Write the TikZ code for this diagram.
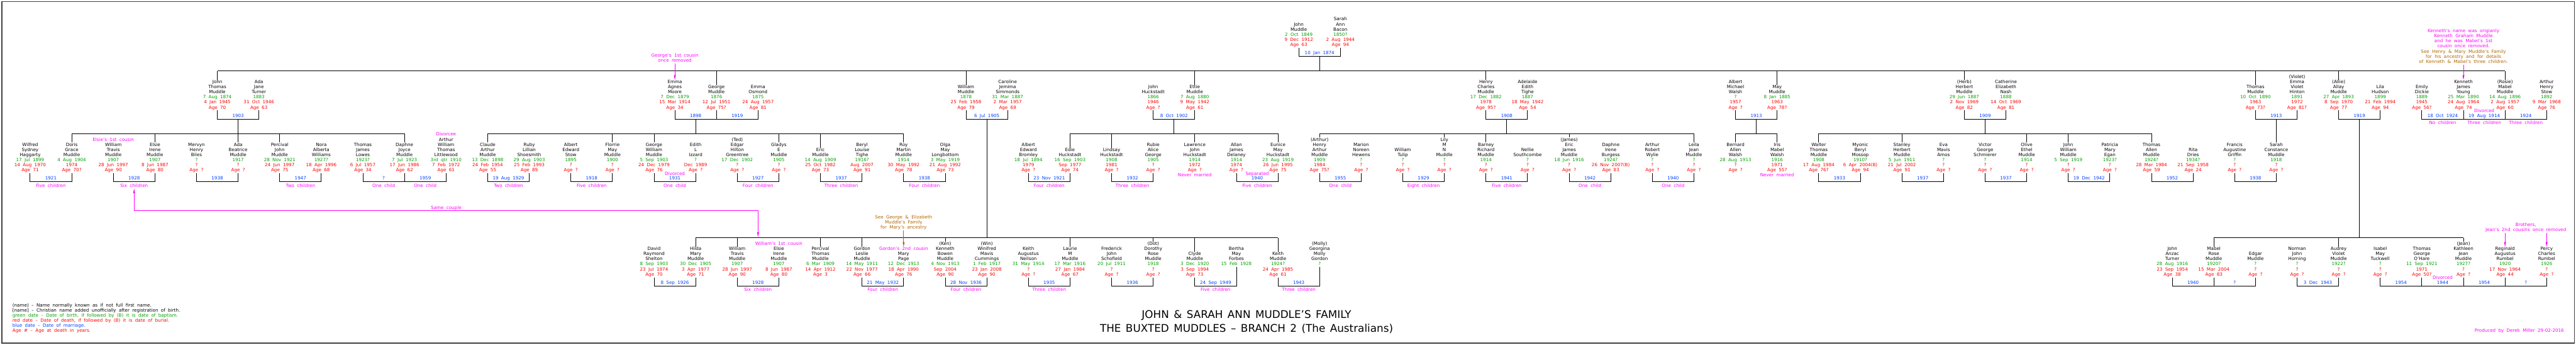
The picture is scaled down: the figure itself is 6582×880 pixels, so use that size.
\documentclass[tikz,border=0pt]{standalone}
\usepackage{fontspec}
\setmainfont{DejaVu Sans}
\usetikzlibrary{calc,arrows.meta}
\definecolor{cg}{RGB}{0,160,0}
\definecolor{cr}{RGB}{255,0,0}
\definecolor{cb}{RGB}{0,64,255}
\definecolor{cm}{RGB}{255,0,255}
\definecolor{cbr}{RGB}{176,100,0}
\newcommand\nf{\fontsize{11.5}{13}\selectfont\spaceskip=7pt plus 1pt minus 1pt\relax}
\newcommand\tf{\fontsize{27}{30}\selectfont\spaceskip=12pt plus 2pt minus 1pt\relax}
\newcommand\tG[1]{\textcolor{cg}{#1}}
\newcommand\tR[1]{\textcolor{cr}{#1}}
\newcommand\tB[1]{\textcolor{cb}{#1}}
\newcommand\tM[1]{\textcolor{cm}{#1}}
\newcommand\tBr[1]{\textcolor{cbr}{#1}}
\newcommand\gx[1]{77+53.14*(#1)}
\newcommand\Pers[7]{\node[pers] (#1) at ({\gx{#2}},#3) {\begin{tabular}[b]{@{}c@{}}#4\\\tG{#5}\\\tR{#6}\\\tR{#7}\end{tabular}};}
\newcommand\PersX[4]{\node[pers] (#1) at ({\gx{#2}},#3) {\begin{tabular}[b]{@{}c@{}}#4\end{tabular}};}
\newcommand\Marr[5]{%
  \path (#1.south |- 0,#3) coordinate (#5l) (#2.south |- 0,#3) coordinate (#5r);
  \coordinate (#5) at ($(#5l)!.5!(#5r)$);
  \draw[ln] (#1.south) -- (#5l) -- (#5r) -- (#2.south);
  \node[dt] (#5d) at ($(#5)+(0,-5)$) {#4};}
\newcommand\Kids[2]{\node[kd] (#1k) at ($(#1)+(0,14)$) {#2};}
\newcommand\Abv[2]{\node[kd] (#1v) at ($(#1)+(0,-17)$) {#2};}
\newcommand\Drops[2]{\foreach \p in {#2} {\draw[ln] (\p.north) -- (\p.north |- 0,#1);}}
\newcommand\Sib[3]{\draw[sib] (#2.north |- 0,#1) -- (#3.north |- 0,#1);}
\tikzset{
 pers/.style={inner sep=0pt,outer sep=0pt,anchor=base,font=\nf},
 lbl/.style={inner sep=0pt,outer sep=0pt,anchor=base,font=\nf},
 dt/.style={lbl,text=cb},
 kd/.style={lbl,text=cm},
 ln/.style={line width=1.4pt},
 sib/.style={line width=1.9pt},
 mgar/.style={draw=cm,line width=1.2pt,-{Triangle[length=12pt,width=4.5pt]}},
 brar/.style={draw=cbr,line width=1.2pt,-{Triangle[length=12pt,width=4.5pt]}},
 outerbox/.style={line width=2.5pt,draw=black!75},
 ttl/.style={inner sep=0pt,outer sep=0pt,anchor=base,font=\tf},
}
\begin{document}
\begin{tikzpicture}[x=1pt,y=-1pt]
\useasboundingbox (0,0) rectangle (6582,880);
\draw[outerbox] (5,4) rectangle (6578,876);

% ---------- row 0
\Pers{john}{61}{118}{John\\Muddle}{2 Oct 1849}{9 Dec 1912}{Age 63}
\Pers{sarah}{63}{118}{Sarah\\Ann\\Bacon}{1850?}{2 Aug 1944}{Age 94}
\Marr{john}{sarah}{144}{10 Jan 1874}{m0}

% ---------- row 1
\Pers{jtm}{9}{278}{John\\Thomas\\Muddle}{7 Aug 1874}{4 Jan 1945}{Age 70}
\Pers{ajt}{11}{278}{Ada\\Jane\\Turner}{1883}{31 Oct 1946}{Age 63}
\Pers{eam}{31}{278}{Emma\\Agnes\\Moore}{7 Dec 1879}{15 Mar 1914}{Age 34}
\Pers{gm}{33}{278}{George\\Muddle}{1876}{12 Jul 1951}{Age 75?}
\Pers{eo}{35}{278}{Emma\\Osmond}{1875}{24 Aug 1957}{Age 81}
\Pers{wm}{45}{278}{William\\Muddle}{1878}{25 Feb 1958}{Age 79}
\Pers{cjs}{47}{278}{Caroline\\Jemima\\Simmonds}{31 Mar 1887}{2 Mar 1957}{Age 69}
\Pers{jh}{54}{278}{John\\Huckstadt}{1866}{1946}{Age ?}
\Pers{etm}{56}{278}{Ettie\\Muddle}{7 Aug 1880}{9 May 1942}{Age 61}
\Pers{hcm}{70}{278}{Henry\\Charles\\Muddle}{17 Dec 1882}{1978}{Age 95?}
\Pers{aet}{72}{278}{Adelaide\\Edith\\Tighe}{1887}{18 May 1942}{Age 54}
\Pers{amw}{82}{278}{Albert\\Michael\\Walsh}{?}{1957}{Age ?}
\Pers{maym}{84}{278}{May\\Muddle}{8 Jan 1885}{1963}{Age 78?}
\Pers{hm}{93}{278}{(Herb)\\Herbert\\Muddle}{29 Jun 1887}{2 Nov 1969}{Age 82}
\Pers{cen}{95}{278}{Catherine\\Elizabeth\\Nash}{1888}{14 Oct 1969}{Age 81}
\Pers{tm}{107}{278}{Thomas\\Muddle}{10 Oct 1890}{1963}{Age 73?}
\Pers{evh}{109}{278}{(Violet)\\Emma\\Violet\\Hinton}{1891}{1972}{Age 81?}
\Pers{alm}{111}{278}{(Allie)\\Allay\\Muddle}{27 Apr 1893}{8 Sep 1970}{Age 77}
\Pers{lh}{113}{278}{Lila\\Hudson}{1899}{21 Feb 1994}{Age 94}
\Pers{edk}{115}{278}{Emily\\Dickie}{1889}{1945}{Age 56?}
\Pers{kjy}{117}{278}{Kenneth\\James\\Young}{25 Mar 1890}{24 Aug 1964}{Age 74}
\Pers{rmm}{119}{278}{(Rosie)\\Mabel\\Muddle}{14 Aug 1896}{2 Aug 1957}{Age 60}
\Pers{ahs}{121}{278}{Arthur\\Henry\\Stow}{1892}{9 Mar 1968}{Age 76}

\Marr{jtm}{ajt}{304}{1903}{mA}
\Marr{eam}{gm}{304}{1898}{mB}
\Marr{gm}{eo}{304}{1919}{mBb}
\Marr{wm}{cjs}{304}{6 Jul 1905}{mC}
\Marr{jh}{etm}{304}{8 Oct 1902}{mD}
\Marr{hcm}{aet}{304}{1908}{mE}
\Marr{amw}{maym}{304}{1913}{mF}
\Marr{hm}{cen}{304}{1909}{mG}
\Marr{tm}{evh}{304}{1913}{mH}
\Marr{alm}{lh}{304}{1919}{mI}
\Marr{edk}{kjy}{304}{18 Oct 1924}{mJ}
\Marr{kjy}{rmm}{304}{19 Aug 1914}{mK}
\Marr{rmm}{ahs}{304}{1924}{mL}
\Kids{mJ}{No children}
\Kids{mK}{Three children}
\Kids{mL}{Three children}
\Abv{mK}{Divorced}

\draw[ln] (m0) -- (m0 |- 0,181);
\Sib{181}{jtm}{rmm}
\Drops{181}{jtm,gm,wm,etm,hcm,maym,hm,tm,alm,rmm}

% ---------- row 2
\Pers{wsh}{0}{438}{Wilfred\\Sydney\\Haggarty}{17 Jul 1899}{14 Aug 1970}{Age 71}
\Pers{dgm}{2}{438}{Doris\\Grace\\Muddle}{4 Aug 1904}{1974}{Age 70?}
\Pers{wtm}{4}{438}{\tM{Elsie’s 1st cousin}\\William\\Travis\\Muddle}{1907}{28 Jun 1997}{Age 90}
\Pers{eim}{6}{438}{Elsie\\Irene\\Muddle}{1907}{8 Jun 1987}{Age 80}
\Pers{mhb}{8}{438}{Mervyn\\Henry\\Biles}{?}{?}{Age ?}
\Pers{abm}{10}{438}{Ada\\Beatrice\\Muddle}{1917}{?}{Age ?}
\Pers{pjm}{12}{438}{Percival\\John\\Muddle}{28 Nov 1921}{24 Jun 1997}{Age 75}
\Pers{naw}{14}{438}{Nora\\Alberta\\Williams}{1927?}{18 Apr 1996}{Age 68}
\Pers{tjl}{16}{438}{Thomas\\James\\Lowes}{1923?}{6 Jul 1957}{Age 34}
\Pers{djm}{18}{438}{Daphne\\Joyce\\Muddle}{7 Jul 1923}{17 Jun 1986}{Age 62}
\Pers{awl}{20}{438}{\tM{Divorcee}\\Arthur\\William\\Thomas\\Littlewood}{3rd qtr 1910}{7 Feb 1972}{Age 61}
\Pers{cam}{22}{438}{Claude\\Arthur\\Muddle}{13 Dec 1898}{24 Feb 1954}{Age 55}
\Pers{rls}{24}{438}{Ruby\\Lillian\\Shoesmith}{29 Aug 1903}{25 Feb 1993}{Age 89}
\Pers{aes}{26}{438}{Albert\\Edward\\Stow}{1895}{?}{Age ?}
\Pers{fmm}{28}{438}{Florrie\\May\\Muddle}{1900}{?}{Age ?}
\Pers{gwm}{30}{438}{George\\William\\Muddle}{5 Sep 1903}{24 Dec 1979}{Age 76}
\Pers{eli}{32}{438}{Edith\\L\\Izzard}{?}{Dec 1989}{Age ?}
\Pers{ehg}{34}{438}{(Ted)\\Edgar\\Hilton\\Greentree}{17 Dec 1902}{?}{Age ?}
\Pers{gem}{36}{438}{Gladys\\E\\Muddle}{1905}{?}{Age ?}
\Pers{erm}{38}{438}{Eric\\Muddle}{14 Aug 1909}{25 Oct 1982}{Age 73}
\Pers{blt}{40}{438}{Beryl\\Louise\\Tighe}{1916?}{Aug 2007}{Age 91}
\Pers{rmmu}{42}{438}{Roy\\Martin\\Muddle}{1914}{30 May 1992}{Age 78}
\Pers{oml}{44}{438}{Olga\\May\\Longbottom}{3 May 1919}{21 Aug 1992}{Age 73}
\Pers{aeb}{48}{438}{Albert\\Edward\\Bromley}{18 Jul 1894}{1979}{Age ?}
\Pers{edh}{50}{438}{Edie\\Huckstadt}{16 Sep 1903}{Sep 1977}{Age 74}
\Pers{lih}{52}{438}{Lindsay\\Huckstadt}{1908}{1981}{Age ?}
\Pers{rag}{54}{438}{Rubie\\Alice\\George}{1905}{?}{Age ?}
\Pers{ljh}{56}{438}{Lawrence\\John\\Huckstadt}{1914}{1972}{Age ?}
\Pers{ajd}{58}{438}{Allan\\James\\Delaney}{1914}{1974}{Age ?}
\Pers{emh}{60}{438}{Eunice\\May\\Huckstadt}{23 Aug 1919}{26 Jun 1995}{Age 75}
\Pers{ham}{62}{438}{(Arthur)\\Henry\\Arthur\\Muddle}{1909}{1984}{Age 75?}
\Pers{mnh}{64}{438}{Marion\\Noreen\\Hewens}{?}{?}{Age ?}
\Pers{wtu}{66}{438}{William\\Tulip}{?}{?}{Age ?}
\Pers{lmn}{68}{438}{Lily\\M\\N\\Muddle}{?}{?}{Age ?}
\Pers{brm}{70}{438}{Barney\\Richard\\Muddle}{1914}{?}{Age ?}
\Pers{nsc}{72}{438}{Nellie\\Southcombe}{?}{?}{Age ?}
\Pers{ejm}{74}{438}{(James)\\Eric\\James\\Muddle}{18 Jun 1916}{?}{Age ?}
\Pers{dib}{76}{438}{Daphne\\Irene\\Burgess}{1924?}{26 Nov 2007(B)}{Age 83}
\Pers{arw}{78}{438}{Arthur\\Robert\\Wylie}{?}{?}{Age ?}
\Pers{ljm}{80}{438}{Leila\\Jean\\Muddle}{?}{?}{Age ?}
\Pers{baw}{82}{438}{Bernard\\Allen\\Walsh}{28 Aug 1913}{?}{Age ?}
\Pers{imw}{84}{438}{Iris\\Mabel\\Walsh}{1916}{1971}{Age 55?}
\Pers{wthm}{86}{438}{Walter\\Thomas\\Muddle}{1908}{17 Aug 1984}{Age 76?}
\Pers{mbm}{88}{438}{Myonic\\Beryl\\Mossop}{1910?}{6 Apr 2004(B)}{Age 94}
\Pers{shm}{90}{438}{Stanley\\Herbert\\Muddle}{5 Jun 1911}{21 Jul 2002}{Age 91}
\Pers{ema}{92}{438}{Eva\\Mavis\\Amos}{?}{?}{Age ?}
\Pers{vgs}{94}{438}{Victor\\George\\Schmierer}{?}{?}{Age ?}
\Pers{oem}{96}{438}{Olive\\Ethel\\Muddle}{1914}{?}{Age ?}
\Pers{jwm}{98}{438}{John\\William\\Muddle}{5 Sep 1919}{?}{Age ?}
\Pers{pme}{100}{438}{Patricia\\Mary\\Egan}{1923?}{?}{Age ?}
\Pers{tam}{102}{438}{Thomas\\Allen\\Muddle}{1924?}{28 Mar 1984}{Age 59}
\Pers{rdr}{104}{438}{Rita\\Dries}{1934?}{21 Sep 1958}{Age 24}
\Pers{fag}{106}{438}{Francis\\Augustine\\Griffin}{?}{?}{Age ?}
\Pers{scm}{108}{438}{Sarah\\Constance\\Muddle}{1918}{?}{Age ?}

\Marr{wsh}{dgm}{464}{1921}{nA}\Kids{nA}{Five children}
\Marr{wtm}{eim}{464}{1928}{nB}\Kids{nB}{Six children}
\Marr{mhb}{abm}{464}{1938}{nC}
\Marr{pjm}{naw}{464}{1947}{nD}\Kids{nD}{Two children}
\Marr{tjl}{djm}{464}{?}{nE}\Kids{nE}{One child}
\Marr{djm}{awl}{464}{1959}{nF}\Kids{nF}{One child}
\Marr{cam}{rls}{464}{19 Aug 1929}{nG}\Kids{nG}{Two children}
\Marr{aes}{fmm}{464}{1918}{nH}\Kids{nH}{Five children}
\Marr{gwm}{eli}{464}{1931}{nI}\Kids{nI}{One child}\Abv{nI}{Divorced}
\Marr{ehg}{gem}{464}{1927}{nJ}\Kids{nJ}{Four children}
\Marr{erm}{blt}{464}{1937}{nK}\Kids{nK}{Three children}
\Marr{rmmu}{oml}{464}{1938}{nL}\Kids{nL}{Four children}
\Marr{aeb}{edh}{464}{23 Nov 1921}{nM}\Kids{nM}{Four children}
\Marr{lih}{rag}{464}{1932}{nN}\Kids{nN}{Three children}
\Marr{ajd}{emh}{464}{1940}{nO}\Kids{nO}{Five children}\Abv{nO}{Separated}
\Marr{ham}{mnh}{464}{1955}{nP}\Kids{nP}{One child}
\Marr{wtu}{lmn}{464}{1929}{nQ}\Kids{nQ}{Eight children}
\Marr{brm}{nsc}{464}{1941}{nR}\Kids{nR}{Five children}
\Marr{ejm}{dib}{464}{1942}{nS}\Kids{nS}{One child}
\Marr{arw}{ljm}{464}{1940}{nT}\Kids{nT}{One child}
\Marr{wthm}{mbm}{464}{1933}{nU}
\Marr{shm}{ema}{464}{1937}{nV}
\Marr{vgs}{oem}{464}{1937}{nW}
\Marr{jwm}{pme}{464}{19 Dec 1942}{nX}
\Marr{tam}{rdr}{464}{1952}{nY}
\Marr{fag}{scm}{464}{1938}{nZ}
\node[kd] (nmL) at ($(ljh.base)+(0,13)$) {Never married};
\node[kd] (nmI) at ($(imw.base)+(0,13)$) {Never married};

\draw[ln] (mA) -- (mA |- 0,341);
\Sib{341}{dgm}{djm}\Drops{341}{dgm,eim,abm,pjm,djm}
\draw[ln] (mB) -- (mB |- 0,341);
\Sib{341}{cam}{rmmu}\Drops{341}{cam,fmm,gwm,gem,erm,rmmu}
\draw[ln] (mD) -- (mD |- 0,341);
\Sib{341}{edh}{emh}\Drops{341}{edh,lih,ljh,emh}
\draw[ln] (mE) -- (mE |- 0,341);
\Sib{341}{ham}{ljm}\Drops{341}{ham,lmn,brm,ejm,ljm}
\draw[ln] (mF) -- (mF |- 0,341);
\Sib{341}{baw}{imw}\Drops{341}{baw,imw}
\draw[ln] (mG) -- (mG |- 0,341);
\Sib{341}{wthm}{tam}\Drops{341}{wthm,shm,oem,jwm,tam}
\draw[ln] (mH) -- (scm.north);

% ---------- row 3
\Pers{drs}{30}{704}{David\\Raymond\\Shelton}{8 Sep 1903}{23 Jul 1974}{Age 70}
\Pers{hmm}{32}{704}{Hilda\\Mary\\Muddle}{30 Dec 1905}{3 Apr 1977}{Age 71}
\Pers{wtmb}{34}{704}{William\\Travis\\Muddle}{1907}{28 Jun 1997}{Age 90}
\Pers{eimb}{36}{704}{\tM{William’s 1st cousin}\\Elsie\\Irene\\Muddle}{1907}{8 Jun 1987}{Age 80}
\Pers{ptm}{38}{704}{Percival\\Thomas\\Muddle}{6 Mar 1909}{14 Apr 1912}{Age 3}
\Pers{glm}{40}{704}{Gordon\\Leslie\\Muddle}{14 May 1911}{22 Nov 1977}{Age 66}
\Pers{mpg}{42}{704}{\tM{Gordon’s 2nd cousin}\\Mary\\Page}{12 Dec 1913}{18 Apr 1990}{Age 76}
\Pers{kbm}{44}{704}{(Ken)\\Kenneth\\Bowen\\Muddle}{4 Nov 1913}{Sep 2004}{Age 90}
\Pers{wmc}{46}{704}{(Win)\\Winifred\\Mavis\\Cummings}{1 Feb 1917}{23 Jan 2008}{Age 90}
\Pers{kan}{48}{704}{Keith\\Augustus\\Neilson}{31 May 1914}{?}{Age ?}
\Pers{lmm}{50}{704}{Laurie\\M\\Muddle}{17 Mar 1916}{27 Jan 1984}{Age 67}
\Pers{fjs}{52}{704}{Frederick\\John\\Schofield}{20 Jul 1911}{?}{Age ?}
\Pers{drm}{54}{704}{(Dot)\\Dorothy\\Rose\\Muddle}{1918}{?}{Age ?}
\Pers{clm}{56}{704}{Clyde\\Muddle}{3 Dec 1920}{3 Sep 1994}{Age 73}
\PersX{bmf}{58}{678}{Bertha\\May\\Forbes\\\tG{15 Feb 1928}}
\Pers{kem}{60}{704}{Keith\\Muddle}{1924?}{24 Apr 1985}{Age 61}
\PersX{gmg}{62}{678}{(Molly)\\Georgina\\Molly\\Gordon\\\tG{?}}

\Marr{drs}{hmm}{730}{8 Sep 1926}{oA}
\Marr{wtmb}{eimb}{730}{1928}{oB}\Kids{oB}{Six children}
\Marr{glm}{mpg}{730}{21 May 1932}{oC}\Kids{oC}{Four children}
\Marr{kbm}{wmc}{730}{28 Nov 1936}{oD}\Kids{oD}{Four children}
\Marr{kan}{lmm}{730}{1935}{oE}\Kids{oE}{Three children}
\Marr{fjs}{drm}{730}{1936}{oF}
\Marr{clm}{bmf}{730}{24 Sep 1949}{oG}\Kids{oG}{Five children}
\Marr{kem}{gmg}{730}{1943}{oH}\Kids{oH}{Three children}

\draw[ln] (mC) -- (mC |- 0,607);
\Sib{607}{hmm}{kem}\Drops{607}{hmm,wtmb,ptm,glm,kbm,lmm,drm,clm,kem}

% ---------- row 4
\Pers{jat}{103}{704}{John\\Anzac\\Turner}{28 Aug 1916}{23 Sep 1954}{Age 38}
\Pers{mrm}{105}{704}{Mabel\\Rose\\Muddle}{1920?}{15 Mar 2004}{Age 83}
\Pers{edm}{107}{704}{Edgar\\Muddle}{?}{?}{Age ?}
\Pers{njh}{109}{704}{Norman\\John\\Horning}{?}{?}{Age ?}
\Pers{avm}{111}{704}{Audrey\\Violet\\Muddle}{1922?}{?}{Age ?}
\Pers{imt}{113}{704}{Isabel\\May\\Tuckwell}{?}{?}{Age ?}
\Pers{tgo}{115}{704}{Thomas\\George\\O’Hare}{11 Sep 1921}{1971}{Age 50?}
\Pers{kjm}{117}{704}{(Jean)\\Kathleen\\Jean\\Muddle}{1927?}{?}{Age ?}
\Pers{rar}{119}{704}{Reginald\\Augustus\\Rumbel}{1920}{17 Nov 1964}{Age 44}
\Pers{pcr}{121}{704}{Percy\\Charles\\Rumbel}{1926}{?}{Age ?}

\Marr{jat}{mrm}{730}{1940}{pA}
\Marr{mrm}{edm}{730}{?}{pB}
\Marr{njh}{avm}{730}{3 Dec 1943}{pC}
\Marr{imt}{tgo}{730}{1954}{pD}
\Marr{tgo}{kjm}{730}{1944}{pE}\node[kd] (pEv) at ($(pE)+(0,-17)$) {Divorced};
\Marr{kjm}{rar}{730}{1954}{pF}
\Marr{rar}{pcr}{730}{?}{pG}

\draw[ln] (mI) -- (mI |- 0,607);
\Sib{607}{mrm}{kjm}\Drops{607}{mrm,avm,kjm}

% ---------- annotations
\node[lbl,text=cm] (ngeo) at ({\gx{31}},158) {\begin{tabular}[b]{@{}c@{}}George’s 1st cousin\\once removed\end{tabular}};
\draw[mgar] (ngeo.south) -- (eam.north);

\node[lbl,text=cm] (nken) at ({\gx{117}},161) {\begin{tabular}[b]{@{}c@{}}Kenneth’s name was origianly\\Kenneth Graham Muddle\\and he was Mabel’s 1st\\cousin once removed.\\\tBr{See Henry \& Mary Muddle’s Family}\\\tBr{for his ancestry and for details}\\\tBr{of Kenneth \& Mabel’s three children.}\end{tabular}};
\draw[mgar] (nken.south) -- (kjy.north);

\node[lbl,text=cbr] (nmary) at ({\gx{42}},584) {\begin{tabular}[b]{@{}c@{}}See George \& Elizabeth\\Muddle’s Family\\for Mary’s ancestry\end{tabular}};
\draw[brar] (nmary.south) -- (mpg.north);

\node[lbl,text=cm] (nbro) at ({\gx{120}},591) {\begin{tabular}[b]{@{}c@{}}Brothers,\\Jean’s 2nd cousins once removed\end{tabular}};
\draw[mgar] (nbro.south -| rar.north) -- (rar.north);
\draw[mgar] (nbro.south -| pcr.north) -- (pcr.north);

\node[kd] (scT) at (1140,534) {Same couple};
\coordinate (scA) at (nB |- 0,538);
\coordinate (scB) at (oB |- 0,538);
\coordinate (scC) at (oB |- 0,605);
\draw[draw=cm,line width=1.2pt,{Triangle[length=12pt,width=4.5pt]}-{Triangle[length=12pt,width=4.5pt]}] ($(nBk.south)+(0,3)$) -- (scA) -- (scB) -- (scC);

% ---------- legend, title, credit
\node[lbl,anchor=base west] (leg) at (32,848) {\begin{tabular}[b]{@{}l@{}}(name) – Name normally known as if not full first name.\\{[}name{]} – Christian name added unofficially after registration of birth.\\\tG{green date – Date of birth, if followed by (B) it is date of baptism.}\\\tR{red date – Date of death, if followed by (B) it is date of burial.}\\\tB{blue date – Date of marriage.}\\\tR{Age \# – Age at death in years.}\end{tabular}};

\node[ttl] (t1) at (3185,813) {JOHN \& SARAH ANN MUDDLE’S FAMILY};
\node[ttl] (t2) at (3185,848) {THE BUXTED MUDDLES – BRANCH 2 (The Australians)};

\node[lbl,anchor=base east,text=cm] (prod) at (6551,848) {Produced by Derek Miller 29-02-2016};
\end{tikzpicture}
\end{document}
